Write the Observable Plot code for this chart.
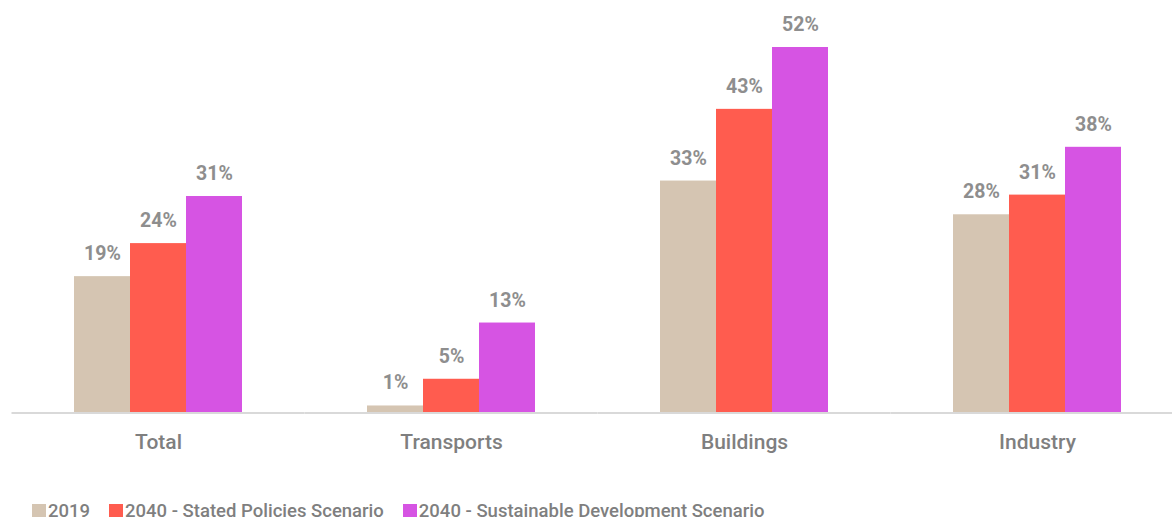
<!DOCTYPE html>
<html>
<head>
<meta charset="utf-8">
<script src="https://cdn.jsdelivr.net/npm/d3@7"></script>
<script src="https://cdn.jsdelivr.net/npm/@observablehq/plot@0.6"></script>
<style>
  body { margin: 0; background: #fff; font-family: Roboto, sans-serif; }
  #chart svg { overflow: visible; }
  .lg-swatch > svg { margin-right: 2px; }
  .lg-swatch { margin-right: 19px; }
</style>
</head>
<body>
<div id="chart"></div>
<script>
const categories = ["Total", "Transports", "Buildings", "Industry"];
const series = ["2019", "2040 - Stated Policies Scenario", "2040 - Sustainable Development Scenario"];
const colors = ["#D5C5B2", "#FF5C4F", "#D654E3"];
const values2019 = [19.4, 1, 33, 28.2];
const valuesSTEPS = [24.1, 4.8, 43.2, 31];
const valuesSDS = [30.8, 12.8, 52, 37.8];
const labels2019 = ["19%", "1%", "33%", "28%"];
const labelsSTEPS = ["24%", "5%", "43%", "31%"];
const labelsSDS = ["31%", "13%", "52%", "38%"];

const seriesValues = [values2019, valuesSTEPS, valuesSDS];
const seriesLabels = [labels2019, labelsSTEPS, labelsSDS];
const data = [];
categories.forEach((c, i) => {
  series.forEach((s, j) => {
    data.push({category: c, series: s, value: seriesValues[j][i], label: seriesLabels[j][i]});
  });
});

const W = 1172, H = 494;
const chart = Plot.plot({
  width: W,
  height: H,
  marginTop: 47,
  marginBottom: 81.5,
  marginLeft: 0,
  marginRight: 0,
  style: {fontFamily: "Roboto, sans-serif", background: "#fff"},
  fx: {domain: categories, range: [11.5, 1183.5], paddingInner: 0.42, paddingOuter: 0.21, axis: "bottom", tickSize: 0, tickPadding: 21.5, label: null, fontSize: 21},
  x: {domain: series, padding: 0, axis: null},
  y: {domain: [0, 52], axis: null},
  color: {domain: series, range: colors},
  marks: [
    Plot.barY(data, {fx: "category", x: "series", y: "value", fill: "series"}),
    Plot.ruleY([0], {stroke: "#d9d9d9", strokeWidth: 2, insetLeft: -61.5, insetRight: -61.5}),
    Plot.text(data, {fx: "category", x: "series", y: "value", text: "label", lineAnchor: "bottom", dy: -16.5, fontSize: 19.5, fontWeight: "bold", fill: "#8e8e8e"})
  ]
});
const fxAxis = chart.querySelector('[aria-label="fx-axis tick label"]') || chart.querySelector('[aria-label="fx-axis"]');
if (fxAxis) {
  fxAxis.setAttribute("fill", "#7f7f7f");
  fxAxis.setAttribute("font-weight", "500");
  fxAxis.setAttribute("font-size", "21");
}
document.getElementById("chart").appendChild(chart);

const legend = Plot.legend({
  color: {domain: series, range: colors},
  legend: "swatches",
  swatchSize: 14,
  marginLeft: 32,
  className: "lg",
  style: {fontFamily: "Roboto, sans-serif", fontSize: "18.5px", fontWeight: 500, color: "#7f7f7f"}
});
document.getElementById("chart").appendChild(legend);
</script>
</body>
</html>
